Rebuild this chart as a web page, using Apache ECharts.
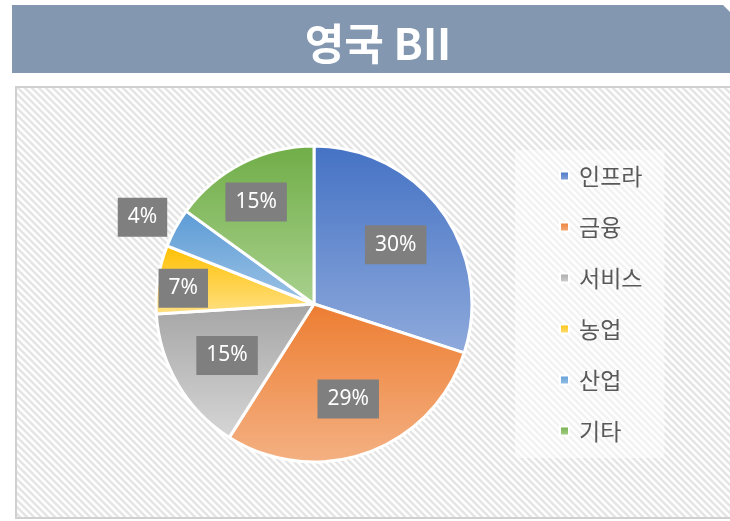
<!DOCTYPE html>
<html><head><meta charset="utf-8">
<script src="https://cdn.jsdelivr.net/npm/echarts@6/dist/echarts.min.js"></script>
<style>html,body{margin:0;padding:0;background:#fff}#c{width:730px;height:521px}</style>
</head><body><div id="c"></div>
<script>
const titleText = '영국 BII';
const categories = ['인프라', '금융', '서비스', '농업', '산업', '기타'];
const values = [30, 29, 15, 7, 4, 15];
const topColors = ['#4472c4', '#ed7d31', '#a5a5a5', '#ffc000', '#5b9bd5', '#70ad47'];
const bottomColors = ['#8faadc', '#f4b183', '#d6d6d6', '#ffe085', '#9dc3e6', '#a9d18e'];

const chart = echarts.init(document.getElementById('c'), null, {renderer: 'canvas'});

// hatch pattern tile
const P = 7;
const tile = document.createElement('canvas');
tile.width = P; tile.height = P;
const tc = tile.getContext('2d');
tc.fillStyle = '#ffffff'; tc.fillRect(0, 0, P, P);
tc.strokeStyle = '#e5e5e5'; tc.lineWidth = 2.6;
for (let k = -1; k <= 1; k++) {
  tc.beginPath(); tc.moveTo(k * P - 2, -2); tc.lineTo(k * P + P + 2, P + 2); tc.stroke();
}

function grad(i) {
  return new echarts.graphic.LinearGradient(0, 0, 0, 1, [
    {offset: 0, color: topColors[i]}, {offset: 1, color: bottomColors[i]}
  ]);
}

const sliceData = categories.map((c, i) => ({name: c, value: values[i], itemStyle: {color: grad(i)}}));
const labelOffsets = {3: [-31, 0], 4: [-83, -38], 5: [-12, -12]};
const labelData = categories.map((c, i) => {
  const d = {name: c, value: values[i]};
  if (labelOffsets[i]) d.label = {offset: labelOffsets[i]};
  return d;
});

chart.setOption({
  animation: false,
  graphic: [
    {type: 'polygon', z: -10, shape: {points: [[12, 5], [723, 5], [730, 12], [730, 73], [12, 73]]}, style: {fill: '#8497b0'}},
    {type: 'rect', z: -10, shape: {x: 16, y: 87, width: 720, height: 431}, style: {fill: {image: tile, repeat: 'repeat'}, stroke: '#d0d0d0', lineWidth: 2}}
  ],
  title: {
    text: titleText, left: 373, top: 14, textAlign: 'center',
    textStyle: {color: '#ffffff', fontSize: 43, fontWeight: 'bold', fontFamily: 'Noto Sans CJK KR', lineHeight: 50}
  },
  legend: {
    orient: 'vertical', left: 515, top: 150,
    padding: [14, 22, 15, 44],
    backgroundColor: 'rgba(255,255,255,0.5)',
    icon: 'rect', itemWidth: 9, itemHeight: 9, itemGap: 27,
    textStyle: {fontSize: 23, lineHeight: 24, color: '#595959', fontFamily: 'Noto Sans CJK KR', padding: [0, 0, 0, 5]},
    data: categories
  },
  series: [
    {
      type: 'pie', center: [314, 304], radius: [0, 158], startAngle: 90, clockwise: true,
      data: sliceData, label: {show: false}, labelLine: {show: false},
      itemStyle: {borderColor: '#ffffff', borderWidth: 3}, emphasis: {disabled: true}, silent: true
    },
    {
      type: 'pie', center: [314, 304], radius: [38, 158], startAngle: 90, clockwise: true,
      data: labelData, silent: true, legendHoverLink: false,
      itemStyle: {color: 'rgba(0,0,0,0)'},
      labelLine: {show: false}, emphasis: {disabled: true},
      label: {
        show: true, position: 'inside', formatter: '{c}%',
        backgroundColor: '#7f7f7f', color: '#ffffff', fontSize: 21, lineHeight: 23,
        padding: [8, 10], fontFamily: 'Noto Sans'
      }
    }
  ]
});
</script></body></html>
